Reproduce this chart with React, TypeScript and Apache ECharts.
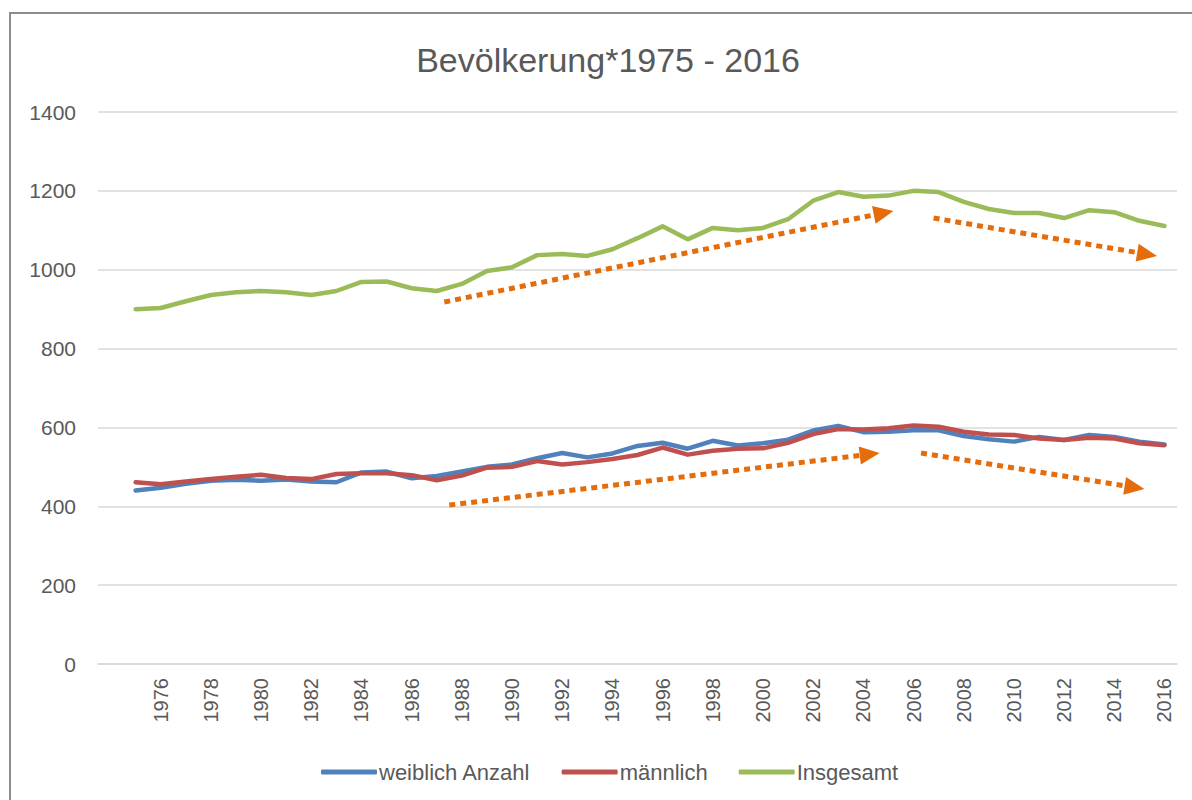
import React, { useEffect, useRef } from "react";
import * as echarts from "echarts";

const years: string[] = ["", "1975", "1976", "1977", "1978", "1979", "1980", "1981", "1982", "1983", "1984", "1985", "1986", "1987", "1988", "1989", "1990", "1991", "1992", "1993", "1994", "1995", "1996", "1997", "1998", "1999", "2000", "2001", "2002", "2003", "2004", "2005", "2006", "2007", "2008", "2009", "2010", "2011", "2012", "2013", "2014", "2015", "2016"];

const weiblich: (number | null)[] = [null, 440, 447, 457, 465, 467, 465, 468, 463, 461, 486, 488, 471, 477, 488, 500, 506, 522, 535, 524, 534, 553, 561, 546, 566, 554, 560, 569, 592, 604, 588, 589, 593, 593, 578, 570, 564, 576, 568, 581, 576, 564, 557];

const maennlich: (number | null)[] = [null, 461, 456, 463, 469, 475, 480, 472, 469, 482, 484, 484, 479, 466, 478, 498, 500, 515, 506, 512, 520, 530, 549, 531, 541, 546, 547, 561, 583, 596, 595, 598, 605, 602, 589, 582, 581, 572, 568, 574, 572, 560, 555];

const insgesamt: (number | null)[] = [null, 900, 903, 920, 936, 943, 946, 943, 936, 946, 969, 970, 953, 946, 964, 997, 1006, 1037, 1040, 1035, 1052, 1080, 1110, 1077, 1106, 1100, 1106, 1128, 1175, 1197, 1185, 1188, 1200, 1197, 1172, 1154, 1144, 1144, 1131, 1151, 1146, 1124, 1111];

// trend arrows in data units: [startYear, startValue, tipYear, tipValue]
const trendArrows: [number, number, number, number][] = [
  [1987.3, 918, 2005.2, 1149],
  [2006.8, 1131, 2015.7, 1035],
  [1987.5, 403, 2004.65, 535],
  [2006.3, 535, 2015.2, 444],
];

const FONT = "'Liberation Sans', Arial, sans-serif";
const TEXT = "#595959";
const ORANGE = "#E46C0A";

export default function App() {
  const ref = useRef<HTMLDivElement>(null);
  useEffect(() => {
    if (!ref.current) return;
    const chart = echarts.init(ref.current, undefined, { renderer: "svg" });
    chart.setOption({
      animation: false,
      backgroundColor: "#ffffff",
      title: {
        text: "Bevölkerung*1975 - 2016",
        left: 603,
        top: 38,
        textAlign: "center",
        textStyle: { fontFamily: FONT, fontSize: 34, fontWeight: "normal", color: TEXT },
      },
      legend: {
        left: 316,
        top: 756,
        itemWidth: 56,
        itemHeight: 5,
        itemGap: 31,
        icon: "roundRect",
        textStyle: { fontFamily: FONT, fontSize: 22, color: TEXT, padding: [0, 0, 0, -3] },
        data: ["weiblich Anzahl", "männlich", "Insgesamt"],
      },
      grid: { left: 98, right: 15, top: 112, bottom: 136 },
      xAxis: {
        type: "category",
        data: years,
        boundaryGap: true,
        axisTick: { show: false },
        axisLine: { show: true, lineStyle: { color: "#d9d9d9", width: 1.5 } },
        axisLabel: {
          interval: 1,
          rotate: 90,
          margin: 14,
          color: TEXT,
          fontFamily: FONT,
          fontSize: 20,
        },
      },
      yAxis: {
        type: "value",
        min: 0,
        max: 1400,
        interval: 200,
        axisLine: { show: false },
        axisTick: { show: false },
        axisLabel: {
          color: TEXT,
          fontFamily: FONT,
          fontSize: 21,
          margin: 22,
          formatter: (v: number) => String(v),
        },
        splitLine: { lineStyle: { color: "#d9d9d9", width: 1.5 } },
      },
      series: [
        {
          name: "weiblich Anzahl",
          type: "line",
          data: weiblich,
          showSymbol: false,
          itemStyle: { color: "#4F81BD" },
          lineStyle: { color: "#4F81BD", width: 4.5, join: "round", cap: "round" },
        },
        {
          name: "männlich",
          type: "line",
          data: maennlich,
          showSymbol: false,
          itemStyle: { color: "#C0504D" },
          lineStyle: { color: "#C0504D", width: 4.5, join: "round", cap: "round" },
        },
        {
          name: "Insgesamt",
          type: "line",
          data: insgesamt,
          showSymbol: false,
          itemStyle: { color: "#9BBB59" },
          lineStyle: { color: "#9BBB59", width: 4.5, join: "round", cap: "round" },
        },
      ],
    });

    const px = (year: number, value: number): [number, number] => {
      const idx = year - 1974;
      const i0 = Math.floor(idx);
      const a = chart.convertToPixel({ gridIndex: 0 }, [i0, value]) as number[];
      const b = chart.convertToPixel({ gridIndex: 0 }, [i0 + 1, value]) as number[];
      return [a[0] + (b[0] - a[0]) * (idx - i0), a[1]];
    };

    const graphics: any[] = [
      {
        type: "rect",
        shape: { x: 10, y: 13, width: 1300, height: 900 },
        style: { fill: "none", stroke: "#8c8c8c", lineWidth: 2 },
        silent: true,
        z: 100,
      },
    ];
    const headLen = 20;
    const headHalf = 9;
    trendArrows.forEach(([y0, v0, y1, v1]) => {
      const p0 = px(y0, v0);
      const p1 = px(y1, v1);
      const dx = p1[0] - p0[0];
      const dy = p1[1] - p0[1];
      const len = Math.sqrt(dx * dx + dy * dy);
      const ux = dx / len;
      const uy = dy / len;
      const bx = p1[0] - ux * headLen;
      const by = p1[1] - uy * headLen;
      graphics.push({
        type: "line",
        shape: { x1: p0[0], y1: p0[1], x2: bx, y2: by },
        style: { stroke: ORANGE, lineWidth: 5, lineDash: [6, 5], lineCap: "butt" },
        silent: true,
        z: 50,
      });
      graphics.push({
        type: "polygon",
        shape: {
          points: [
            [p1[0], p1[1]],
            [bx - uy * headHalf, by + ux * headHalf],
            [bx + uy * headHalf, by - ux * headHalf],
          ],
        },
        style: { fill: ORANGE },
        silent: true,
        z: 50,
      });
    });
    chart.setOption({ graphic: graphics });

    return () => chart.dispose();
  }, []);
  return (
    <div
      ref={ref}
      style={{ position: "fixed", left: 0, top: 0, width: 1192, height: 800 }}
    />
  );
}
